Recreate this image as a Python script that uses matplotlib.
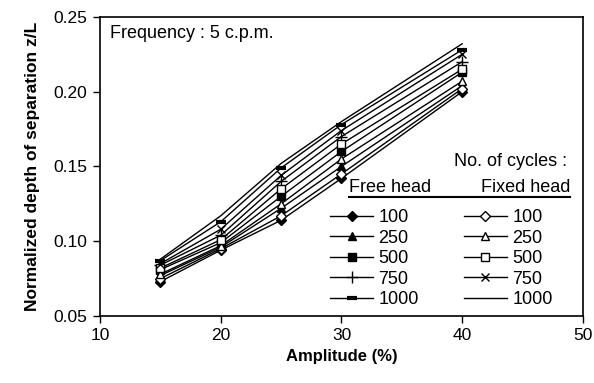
import matplotlib.pyplot as plt
from matplotlib.lines import Line2D

plt.rcParams['font.family'] = ['Liberation Sans', 'DejaVu Sans']

amplitude = [15, 20, 25, 30, 40]
cycles = ['100', '250', '500', '750', '1000']

free_head = {
    '100': [0.073, 0.094, 0.114, 0.142, 0.200],
    '250': [0.077, 0.096, 0.122, 0.150, 0.204],
    '500': [0.081, 0.099, 0.130, 0.160, 0.213],
    '750': [0.084, 0.104, 0.140, 0.170, 0.220],
    '1000': [0.087, 0.113, 0.149, 0.178, 0.228],
}
fixed_head = {
    '100': [0.075, 0.095, 0.117, 0.145, 0.202],
    '250': [0.078, 0.097, 0.125, 0.155, 0.207],
    '500': [0.082, 0.101, 0.135, 0.165, 0.215],
    '750': [0.085, 0.108, 0.144, 0.174, 0.225],
    '1000': [0.088, 0.117, 0.152, 0.180, 0.232],
}

free_markers = {'100': 'D', '250': '^', '500': 's', '750': '+', '1000': '_'}
fixed_markers = {'100': 'D', '250': '^', '500': 's', '750': 'x', '1000': ''}
marker_size = {'D': 5, '^': 6, 's': 5.5, '+': 9, '_': 7, 'x': 6, '': 0}

fig = plt.figure(figsize=(5.94, 3.83), dpi=100)
ax = fig.add_axes([0.1684, 0.175, 0.813, 0.781])

handles_free = []
handles_fixed = []
for c in cycles:
    m = free_markers[c]
    h, = ax.plot(amplitude, free_head[c], color='black', lw=1, marker=m,
                 ms=marker_size[m], mfc='black', mec='black',
                 mew=3 if m == '_' else 1)
    handles_free.append(h)
for c in cycles:
    m = fixed_markers[c]
    h, = ax.plot(amplitude, fixed_head[c], color='black', lw=1,
                 marker=m if m else None, ms=marker_size[m],
                 mfc='white', mec='black', mew=1)
    handles_fixed.append(h)

ax.set_xlim(10, 50)
ax.set_ylim(0.05, 0.25)
ax.set_xticks([10, 20, 30, 40, 50])
ax.set_yticks([0.05, 0.10, 0.15, 0.20, 0.25])
ax.set_yticklabels(['0.05', '0.10', '0.15', '0.20', '0.25'])
ax.tick_params(direction='out', length=5, labelsize=12.5, width=1, pad=4)
for s in ax.spines.values():
    s.set_linewidth(1.2)

ax.set_xlabel('Amplitude (%)', fontsize=12, fontweight='bold', labelpad=4)
ax.set_ylabel('Normalized depth of separation z/L', fontsize=12.5,
              fontweight='bold', labelpad=10)

ax.text(0.021, 0.946, 'Frequency : 5 c.p.m.', transform=ax.transAxes,
        fontsize=13, va='center', ha='left')

# legend header
ax.text(0.967, 0.515, 'No. of cycles :', transform=ax.transAxes, fontsize=13,
        ha='right', va='center')
ax.text(0.516, 0.431, 'Free head', transform=ax.transAxes, fontsize=13,
        ha='left', va='center')
ax.text(0.973, 0.431, 'Fixed head', transform=ax.transAxes, fontsize=13,
        ha='right', va='center')
ax.add_line(Line2D([0.516, 0.973], [0.398, 0.398], transform=ax.transAxes,
                   color='black', lw=1.5))

ax.legend(handles_free + handles_fixed, cycles + cycles, ncol=2, frameon=False,
          loc='upper left', bbox_to_anchor=(0.476, 0.358), fontsize=13,
          handlelength=2.4, handletextpad=0.28, columnspacing=2.5,
          labelspacing=0.2, borderpad=0, borderaxespad=0)

fig.savefig('out.png', dpi=100)
